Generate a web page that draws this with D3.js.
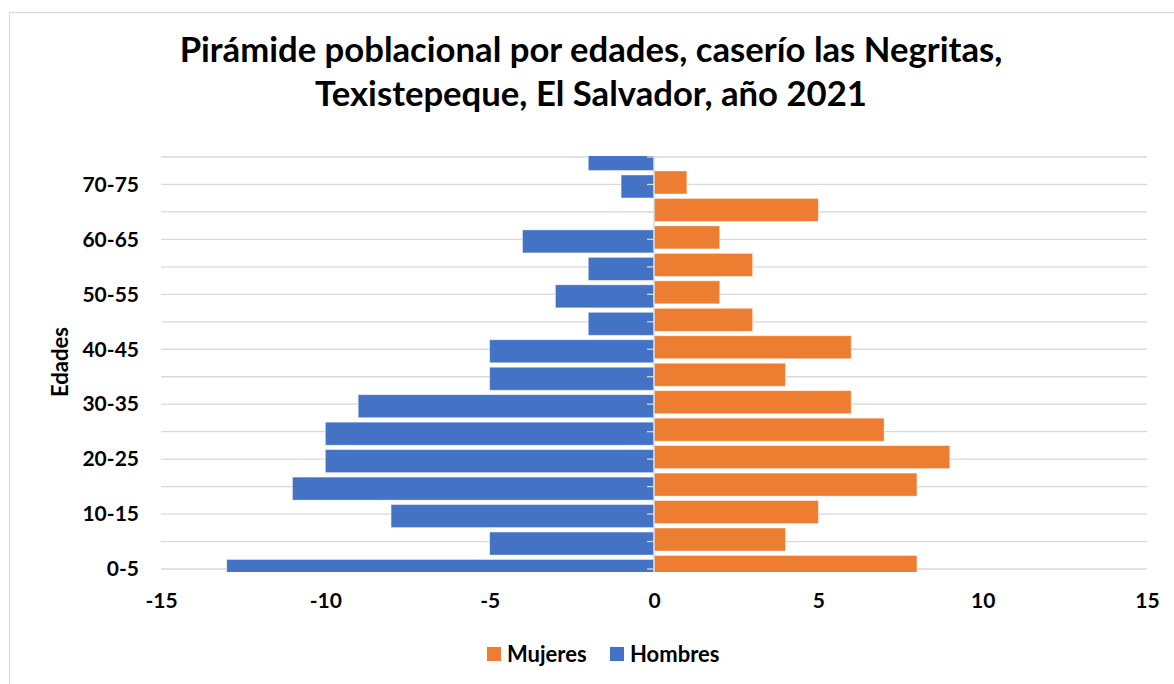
<!DOCTYPE html>
<html>
<head>
<meta charset="utf-8">
<script src="https://cdn.jsdelivr.net/npm/d3@7"></script>
<style>
  body { margin: 0; background: #fff; }
  svg { display: block; font-family: Lato, "Open Sans", sans-serif; }
</style>
</head>
<body>
<svg id="chart" width="1174" height="684"></svg>
<script>
// DATA
const titleLines = [
  "Pirámide poblacional por edades, caserío las Negritas,",
  "Texistepeque, El Salvador, año 2021"
];
const ageGroups = ["0-5", "5-10", "10-15", "15-20", "20-25", "25-30", "30-35", "35-40",
  "40-45", "45-50", "50-55", "55-60", "60-65", "65-70", "70-75", "75-80"];
const hombres = [13, 5, 8, 11, 10, 10, 9, 5, 5, 2, 3, 2, 4, 0, 1, 2];
const mujeres = [8, 4, 5, 8, 9, 7, 6, 4, 6, 3, 2, 3, 2, 5, 1, 0];
const xTicks = [-15, -10, -5, 0, 5, 10, 15];
const yTitle = "Edades";
const seriesNames = ["Mujeres", "Hombres"];

const BLUE = "#4472C4";
const ORANGE = "#ED7D31";
const GRID = "#d9d9d9";

const svg = d3.select("#chart");

// chart frame
svg.append("rect")
  .attr("x", 9.5).attr("y", 12.5)
  .attr("width", 1200).attr("height", 700)
  .attr("fill", "#fff")
  .attr("stroke", GRID)
  .attr("stroke-width", 1.2);

// SCALES
const plotLeft = 161, plotRight = 1147;
const plotTop = 157, plotBottom = 569;
const x = d3.scaleLinear().domain([-15, 15]).range([plotLeft, plotRight]);
const y = d3.scalePoint().domain(ageGroups).range([plotBottom, plotTop]);
const barH = 23;

// gridlines
svg.append("g")
  .selectAll("line")
  .data(ageGroups)
  .join("line")
  .attr("x1", plotLeft).attr("x2", plotRight)
  .attr("y1", d => y(d)).attr("y2", d => y(d))
  .attr("stroke", GRID)
  .attr("stroke-width", 1.3);

// bars (half clipped at the ends like the original)
svg.append("clipPath").attr("id", "plotclip")
  .append("rect")
  .attr("x", plotLeft - 5).attr("y", plotTop - 1)
  .attr("width", plotRight - plotLeft + 10).attr("height", plotBottom - plotTop + 4);

const bars = svg.append("g").attr("clip-path", "url(#plotclip)");

bars.selectAll(".h")
  .data(hombres)
  .join("rect")
  .attr("class", "h")
  .attr("x", d => x(-d))
  .attr("y", (d, i) => y(ageGroups[i]) + 2 - barH / 2)
  .attr("width", d => x(0) - x(-d))
  .attr("height", barH)
  .attr("fill", BLUE)
  .attr("stroke", d => d > 0 ? "#fff" : "none")
  .attr("stroke-opacity", 0.5)
  .attr("stroke-width", 0.8);

bars.selectAll(".m")
  .data(mujeres)
  .join("rect")
  .attr("class", "m")
  .attr("x", x(0))
  .attr("y", (d, i) => y(ageGroups[i]) - 2 - barH / 2)
  .attr("width", d => x(d) - x(0))
  .attr("height", barH)
  .attr("fill", ORANGE)
  .attr("stroke", d => d > 0 ? "#fff" : "none")
  .attr("stroke-opacity", 0.5)
  .attr("stroke-width", 0.8);

// category axis at zero
svg.append("line")
  .attr("x1", x(0)).attr("x2", x(0))
  .attr("y1", plotTop - 1).attr("y2", plotBottom + 3)
  .attr("stroke", GRID)
  .attr("stroke-width", 1.5);

svg.append("g")
  .selectAll("line")
  .data(ageGroups)
  .join("line")
  .attr("x1", x(0) - 7).attr("x2", x(0))
  .attr("y1", d => y(d)).attr("y2", d => y(d))
  .attr("stroke", GRID)
  .attr("stroke-width", 1.3);

// y labels (every other group)
const yAxis = svg.append("g")
  .attr("transform", `translate(${plotLeft},0)`)
  .call(d3.axisLeft(y)
    .tickValues(ageGroups.filter((d, i) => i % 2 === 0))
    .tickSize(0)
    .tickPadding(22));
yAxis.select(".domain").remove();
yAxis.selectAll("text")
  .attr("font-family", "Lato, sans-serif")
  .attr("font-size", 21)
  .attr("font-weight", "bold")
  .attr("fill", "#000");

// x axis (plain hyphen for negatives, as in the original)
const xAxis = svg.append("g")
  .attr("transform", `translate(0,572)`)
  .call(d3.axisBottom(x).tickValues(xTicks).tickFormat(d => String(d))
    .tickSize(0).tickPadding(21));
xAxis.select(".domain").remove();
xAxis.selectAll("text")
  .attr("font-family", "Lato, sans-serif")
  .attr("font-size", 21)
  .attr("font-weight", "bold")
  .attr("fill", "#000");

// y title
svg.append("text")
  .attr("transform", "translate(68,362) rotate(-90)")
  .attr("text-anchor", "middle")
  .attr("font-size", 22)
  .attr("font-weight", "bold")
  .text(yTitle);

// title, sized so the first line spans the same width as the original
const titleY = [62, 106];
const titleEls = titleLines.map((t, i) => svg.append("text")
  .attr("x", 591)
  .attr("y", titleY[i])
  .attr("text-anchor", "middle")
  .attr("font-size", 30)
  .attr("font-weight", "bold")
  .text(t));
const fitSize = 30 * 823 / titleEls[0].node().getComputedTextLength();
titleEls.forEach(el => el.attr("font-size", fitSize));

// legend
const legend = svg.append("g");
const legendX = [487, 610];
const legendColors = [ORANGE, BLUE];
seriesNames.forEach((name, i) => {
  legend.append("rect")
    .attr("x", legendX[i]).attr("y", 647)
    .attr("width", 14).attr("height", 14)
    .attr("fill", legendColors[i]);
  legend.append("text")
    .attr("x", legendX[i] + 20).attr("y", 662)
    .attr("font-size", 22)
    .attr("font-weight", "bold")
    .text(name);
});
</script>
</body>
</html>
